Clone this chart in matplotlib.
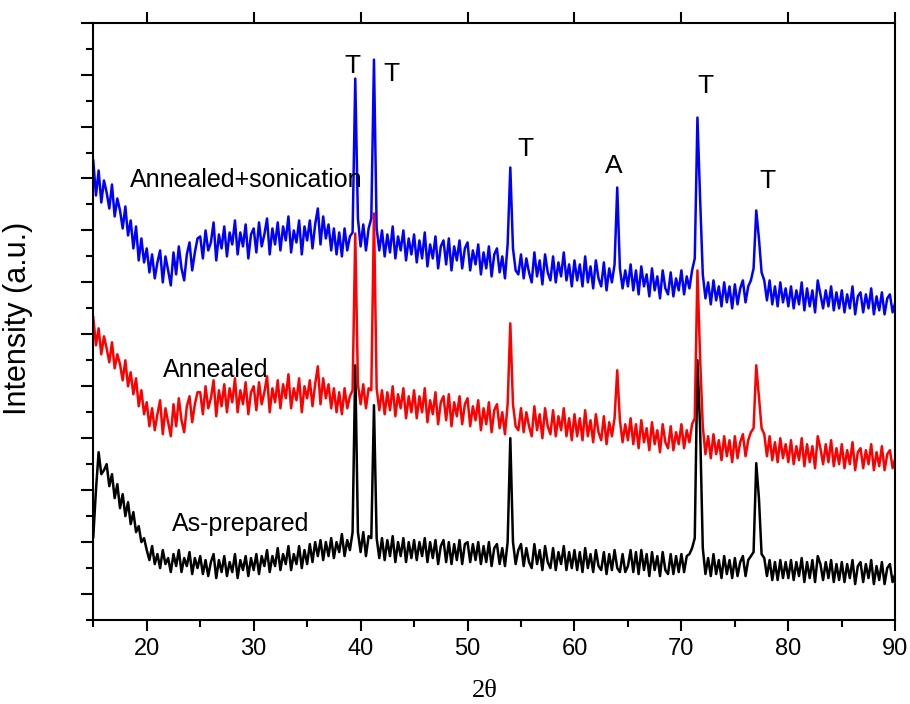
import numpy as np
import matplotlib
matplotlib.use("Agg")
import matplotlib.pyplot as plt

# 2theta grid (0.25 deg step), 15 -> 90
dos_theta = np.arange(15, 90.001, 0.25)

# intensidades (a.u.), una fila = 5 grados
sonicado = [
    460, 425, 450, 418, 440, 428, 412, 436, 404, 422, 410, 392, 414, 385, 400, 372, 394, 360, 382, 358,
    372, 348, 366, 342, 358, 370, 338, 364, 350, 335, 368, 346, 374, 352, 340, 366, 378, 350, 368, 382,
    384, 362, 390, 370, 378, 398, 360, 386, 372, 394, 364, 388, 376, 400, 366, 388, 374, 396, 362, 386,
    392, 368, 398, 374, 386, 402, 366, 392, 376, 398, 370, 394, 380, 404, 368, 390, 378, 400, 366, 394,
    380, 400, 372, 396, 412, 376, 404, 382, 396, 370, 392, 366, 388, 364, 392, 370, 384, 388, 542, 402,
    374, 396, 370, 392, 402, 561, 392, 370, 390, 364, 386, 368, 394, 362, 384, 370, 390, 360, 382, 366,
    386, 358, 380, 362, 388, 354, 376, 362, 384, 352, 374, 380, 356, 382, 350, 374, 360, 380, 352, 372,
    378, 350, 370, 356, 376, 346, 368, 352, 374, 344, 366, 372, 348, 364, 342, 376, 453, 372, 350, 346,
    366, 342, 362, 348, 338, 368, 344, 360, 336, 366, 348, 340, 364, 338, 358, 344, 368, 340, 356, 334,
    360, 340, 356, 334, 364, 338, 354, 332, 360, 342, 334, 358, 330, 352, 338, 356, 433, 352, 332, 350,
    334, 356, 330, 350, 326, 354, 334, 346, 324, 352, 330, 344, 322, 350, 332, 326, 348, 324, 342, 330,
    350, 326, 344, 332, 350, 362, 503, 422, 346, 322, 338, 316, 340, 320, 334, 314, 338, 318, 334, 312,
    336, 316, 332, 340, 318, 334, 340, 352, 410, 382, 348, 340, 320, 340, 316, 334, 314, 338, 318, 332,
    314, 334, 312, 330, 316, 338, 310, 332, 314, 330, 308, 340, 326, 312, 330, 314, 334, 310, 328, 312,
    330, 308, 326, 312, 334, 306, 324, 328, 308, 326, 312, 332, 306, 324, 310, 328, 306, 322, 326, 308,
    318]

recocido = [
    303, 275, 292, 266, 284, 272, 258, 278, 252, 266, 256, 240, 260, 234, 248, 226, 242, 214, 230, 206,
    218, 194, 212, 190, 206, 220, 186, 212, 198, 184, 216, 194, 222, 200, 188, 214, 224, 198, 216, 228,
    228, 206, 234, 212, 222, 240, 204, 230, 214, 236, 208, 232, 218, 242, 208, 230, 216, 238, 206, 228,
    234, 210, 238, 216, 228, 244, 208, 232, 218, 240, 212, 236, 222, 246, 212, 232, 220, 242, 208, 234,
    222, 240, 214, 236, 254, 216, 242, 222, 236, 212, 232, 208, 228, 206, 232, 212, 224, 230, 387, 236,
    216, 236, 212, 232, 230, 407, 232, 210, 230, 206, 228, 210, 234, 204, 226, 212, 232, 202, 224, 208,
    230, 202, 224, 208, 232, 198, 220, 206, 228, 196, 218, 224, 200, 226, 194, 218, 204, 224, 196, 216,
    222, 194, 214, 200, 220, 190, 212, 196, 218, 188, 210, 216, 192, 208, 186, 216, 297, 216, 194, 190,
    212, 188, 208, 194, 184, 214, 190, 206, 182, 212, 194, 186, 210, 184, 204, 190, 212, 184, 202, 180,
    206, 184, 202, 180, 210, 184, 200, 178, 206, 188, 180, 204, 176, 198, 184, 202, 250, 200, 178, 196,
    180, 202, 176, 196, 172, 200, 178, 192, 170, 198, 176, 190, 168, 196, 178, 172, 194, 170, 188, 176,
    196, 172, 190, 178, 196, 202, 350, 262, 194, 166, 184, 162, 186, 166, 180, 160, 184, 164, 180, 158,
    184, 162, 178, 186, 164, 180, 188, 192, 255, 224, 192, 186, 164, 184, 160, 178, 158, 182, 162, 176,
    158, 180, 156, 174, 160, 182, 154, 176, 158, 174, 152, 184, 172, 156, 176, 158, 180, 154, 172, 156,
    176, 152, 170, 156, 178, 150, 168, 172, 152, 170, 156, 176, 150, 168, 154, 174, 150, 166, 170, 152,
    162]

preparado = [
    83, 130, 168, 146, 150, 156, 134, 146, 122, 136, 112, 126, 104, 118, 96, 108, 88, 94, 78, 82,
    70, 60, 74, 56, 66, 52, 70, 56, 62, 48, 66, 54, 70, 48, 62, 54, 68, 46, 62, 52,
    64, 46, 60, 44, 58, 66, 42, 60, 48, 64, 44, 58, 48, 66, 42, 60, 50, 64, 44, 62,
    50, 66, 46, 64, 54, 70, 48, 64, 54, 72, 50, 66, 56, 74, 50, 66, 56, 74, 52, 70,
    56, 76, 58, 78, 64, 80, 60, 78, 64, 82, 62, 78, 68, 86, 64, 80, 70, 88, 255, 88,
    68, 88, 64, 84, 82, 215, 82, 62, 82, 60, 80, 64, 84, 58, 78, 64, 82, 58, 78, 62,
    80, 60, 78, 64, 82, 58, 78, 62, 80, 56, 74, 80, 58, 78, 56, 76, 60, 80, 56, 76,
    78, 58, 76, 60, 78, 56, 74, 58, 78, 54, 72, 76, 56, 72, 54, 78, 182, 78, 56, 70,
    76, 54, 72, 58, 52, 76, 56, 70, 50, 74, 58, 52, 72, 50, 68, 56, 74, 50, 68, 52,
    70, 50, 68, 48, 72, 52, 66, 48, 70, 54, 50, 68, 46, 66, 50, 70, 52, 48, 66, 48,
    54, 70, 48, 68, 46, 70, 50, 66, 44, 68, 50, 64, 44, 68, 50, 46, 66, 46, 64, 48,
    66, 48, 64, 66, 72, 82, 260, 192, 72, 46, 62, 44, 66, 46, 60, 42, 64, 46, 60, 42,
    62, 44, 58, 64, 44, 60, 64, 68, 157, 122, 66, 62, 44, 60, 40, 58, 40, 60, 42, 58,
    42, 60, 40, 58, 44, 62, 38, 58, 42, 60, 38, 64, 56, 40, 58, 42, 60, 38, 56, 40,
    58, 38, 56, 42, 60, 36, 54, 58, 38, 56, 42, 60, 36, 54, 40, 58, 36, 52, 56, 38,
    46]

# etiquetas de las curvas y de los picos
nombres = ["Annealed+sonication", "Annealed", "As-prepared"]
pos_nombres = [(18.4, 433), (21.5, 243), (22.4, 89)]
picos = ["T", "T", "T", "A", "T", "T"]
pos_picos = [(39.25, 548), (42.9, 540), (55.4, 465), (63.7, 448), (72.25, 528), (78.0, 432)]

fig = plt.figure(figsize=(9.1, 7.04), dpi=100)
ax = fig.add_axes([0.1025, 0.1193, 0.8813, 0.8485])

# orden de dibujo: negro abajo, azul arriba
ax.plot(dos_theta, preparado, color="black", linewidth=1.8)
ax.plot(dos_theta, recocido, color="#ff0000", linewidth=1.8)
ax.plot(dos_theta, sonicado, color="#0000ff", linewidth=1.8)

for txt, (xx, yy) in zip(nombres, pos_nombres):
    ax.text(xx, yy, txt, fontsize=18, family="Liberation Sans", va="baseline", ha="left")
for txt, (xx, yy) in zip(picos, pos_picos):
    ax.text(xx, yy, txt, fontsize=19, family="Liberation Sans", va="baseline", ha="center")

ax.set_xlim(15, 90)
ax.set_ylim(0, 598)
ax.set_xticks(np.arange(20, 91, 10))
ax.set_xticks(np.arange(15, 90, 10), minor=True)
ax.set_yticks(np.arange(26, 599, 52))
ax.set_yticks(np.arange(0, 599, 52), minor=True)
ax.set_yticklabels([])

for lab in ax.get_xticklabels():
    lab.set_family("Liberation Sans")
    lab.set_fontsize(17)

ax.tick_params(axis="x", which="major", direction="out", length=8, width=1.5, top=True, pad=5)
ax.tick_params(axis="x", which="minor", direction="out", length=5, width=1.5, top=False)
ax.tick_params(axis="y", which="major", direction="out", length=9, width=1.5, right=False)
ax.tick_params(axis="y", which="minor", direction="out", length=5, width=1.5, right=False)
for s in ax.spines.values():
    s.set_linewidth(1.5)

ax.set_xlabel("2θ", fontsize=19, family="Liberation Serif")
ax.xaxis.set_label_coords(0.488, -0.1)
ax.set_ylabel("Intensity (a.u.)", fontsize=22, family="Liberation Sans")
ax.yaxis.set_label_coords(-0.075, 0.505)

fig.savefig("out.png", dpi=100)
